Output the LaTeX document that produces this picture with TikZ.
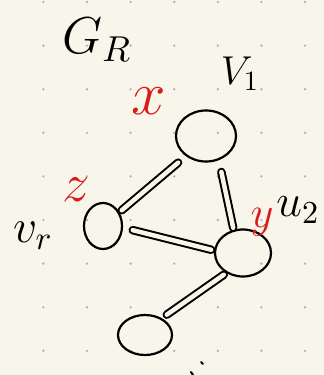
\documentclass[tikz,border=0pt]{standalone}
\usetikzlibrary{shapes.geometric}
\definecolor{paper}{HTML}{F8F6EB}
\definecolor{gridgray}{HTML}{B4B2AA}
\definecolor{inkred}{HTML}{D81B1B}
\begin{document}
\begin{tikzpicture}[x=1pt,y=-1pt,
  vert/.style={ellipse, draw=black, line width=2.2pt, inner sep=0pt},
  edge/.style={draw=black, double=paper, double distance=4.5pt, line width=2pt, line cap=round},
  lbl/.style={font=\Large, inner sep=0pt},
  redlbl/.style={lbl, text=inkred}]
  % paper and dot grid
  \fill[paper] (0,0) rectangle (324,375);
  \useasboundingbox (0,0) rectangle (324,375);
  \foreach \i in {0,...,6}
    \foreach \j in {0,...,8}
      \fill[gridgray] (43.4+43.6*\i, 2+43.6*\j) circle (1.3pt);

  % vertices
  \node[vert, minimum width=60pt, minimum height=51pt] (v1) at (206,136) {};
  \node[vert, minimum width=38pt, minimum height=46pt] (vr) at (103,226) {};
  \node[vert, minimum width=56pt, minimum height=47pt] (u2) at (243,253) {};
  \node[vert, minimum width=54pt, minimum height=40pt] (w)  at (145,335) {};

  % edges
  \draw[edge, shorten <=10pt, shorten >=3pt] (v1.-135) -- (vr.40);
  \draw[edge, shorten <=12pt, shorten >=2pt] (v1.-62) -- (u2.112);
  \draw[edge, shorten <=10pt, shorten >=3pt] (vr.-5) -- (u2.175);
  \draw[edge, shorten <=3pt, shorten >=6pt] (u2.-130) -- (w.45);

  % labels
  \node[lbl, scale=3.6] (gr) at (97,40) {$G_R$};
  \node[lbl, scale=2.8] (lv1) at (240,74) {$V_1$};
  \node[lbl, scale=3.3] (lvr) at (33,236) {$v_{r}$};
  \node[lbl, scale=3.2] (lu2) at (298,210) {$u_{2}$};
  \node[redlbl, scale=4.3] (lx) at (149,101) {$x$};
  \node[redlbl, scale=3.8] (lz) at (76,190) {$z$};
  \node[redlbl, scale=3.1] (ly) at (262,222) {$y$};
  % partial mark at the lower border
  \draw[line width=2pt, line cap=round] (201,362) -- (203,364) (191,372) -- (193,375);
\end{tikzpicture}
\end{document}
